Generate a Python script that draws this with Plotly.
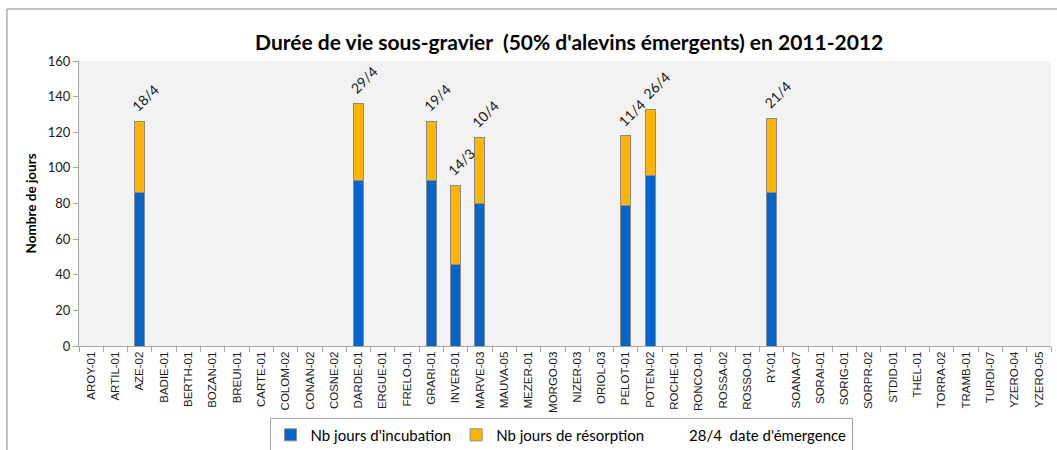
import plotly.graph_objects as go

# Stations (category axis)
stations = [
    "AROY-01", "ARTIL-01", "AZE-02", "BADIE-01", "BERTH-01", "BOZAN-01", "BREUI-01",
    "CARTE-01", "COLOM-02", "CONAN-02", "COSNE-02", "DARDE-01", "ERGUE-01", "FRELO-01",
    "GRARI-01", "INVER-01", "MARVE-03", "MAUVA-05", "MEZER-01", "MORGO-03", "NIZER-03",
    "ORIOL-03", "PELOT-01", "POTEN-02", "ROCHE-01", "RONCO-01", "ROSSA-02", "ROSSO-01",
    "RY-01", "SOANA-07", "SORAI-01", "SORIG-01", "SORPR-02", "STDID-01", "THEL-01",
    "TORRA-02", "TRAMB-01", "TURDI-07", "YZERO-04", "YZERO-05",
]

# Stations with data for 2011-2012
obs_stations = ["AZE-02", "DARDE-01", "GRARI-01", "INVER-01", "MARVE-03", "PELOT-01", "POTEN-02", "RY-01"]
incubation_days = [86, 93, 93, 46, 80, 79, 96, 86]
resorption_days = [40, 43, 33, 44, 37, 39, 37, 42]
emergence_dates = ["18/4", "29/4", "19/4", "14/3", "10/4", "11/4", "26/4", "21/4"]

y_ticks = [0, 20, 40, 60, 80, 100, 120, 140, 160]

BLUE = "#0066CC"
ORANGE = "#FFB400"
EDGE = "#8C8C8C"
AXIS = "#A6A6A6"
CAL = "Lato, Calibri, sans-serif"

fig = go.Figure()
fig.add_trace(go.Bar(
    x=obs_stations, y=incubation_days, name="Nb jours d'incubation",
    marker=dict(color=BLUE, line=dict(color=EDGE, width=1)),
))
fig.add_trace(go.Bar(
    x=obs_stations, y=resorption_days, name="Nb jours de résorption",
    marker=dict(color=ORANGE, line=dict(color=EDGE, width=1)),
))
# Legend-only entry for the date labels
fig.add_trace(go.Bar(
    x=[stations[0]], y=[None], name="28/4  date d'émergence",
    marker=dict(color="rgba(0,0,0,0)", line=dict(width=0)),
))

# Emergence date above each stacked bar
for st, inc, res, d in zip(obs_stations, incubation_days, resorption_days, emergence_dates):
    fig.add_annotation(
        x=st, y=inc + res, text=d, textangle=-45, showarrow=False,
        xanchor="center", yanchor="bottom", xshift=6, yshift=4,
        font=dict(family=CAL, size=14, color="#1a1a1a"),
    )

# Y-axis title
fig.add_annotation(
    xref="paper", yref="paper", x=-0.0504, y=0.5, text="<b>Nombre de jours</b>",
    textangle=-90, showarrow=False, xanchor="center", yanchor="middle",
    font=dict(family=CAL, size=13.5, color="#000000"),
)

# Outer chart frame
fig.add_shape(
    type="rect", xref="paper", yref="paper", x0=-0.0741, y0=-0.5, x1=1.2, y1=1.1825,
    line=dict(color="#868686", width=1), fillcolor="rgba(0,0,0,0)", layer="below",
)

fig.update_layout(
    width=1057, height=450,
    barmode="stack", bargap=0.59,
    margin=dict(l=79, r=6, t=61, b=104, autoexpand=False),
    paper_bgcolor="white", plot_bgcolor="#F2F2F2",
    title=dict(
        text="<b>Durée de vie sous-gravier  (50% d'alevins émergents) en 2011-2012</b>",
        x=0.5385, xanchor="center", y=0.905, yanchor="middle",
        font=dict(family=CAL, size=21, color="#000000"),
    ),
    xaxis=dict(
        categoryorder="array", categoryarray=stations, tickvals=stations,
        range=[-0.5, len(stations) - 0.5],
        tickangle=-90, tickson="boundaries", ticks="outside", ticklen=5,
        tickcolor=AXIS, showline=True, linecolor=AXIS, linewidth=1,
        showgrid=False, tickfont=dict(family="Liberation Sans, Arial", size=11.5, color="#1a1a1a"),
    ),
    yaxis=dict(
        range=[0, 160], tickvals=y_ticks, ticks="outside", ticklen=5,
        tickcolor=AXIS, showline=True, linecolor=AXIS, linewidth=1,
        showgrid=False, zeroline=False,
        tickfont=dict(family=CAL, size=13, color="#1a1a1a"),
    ),
    legend=dict(
        orientation="h", x=0.196, xanchor="left",
        yref="container", y=0.072, yanchor="top",
        bgcolor="white", bordercolor="#A6A6A6", borderwidth=1,
        font=dict(family=CAL, size=15, color="#000000"),
        traceorder="normal", itemwidth=30,
    ),
    showlegend=True,
)

fig.write_html("out.html")
